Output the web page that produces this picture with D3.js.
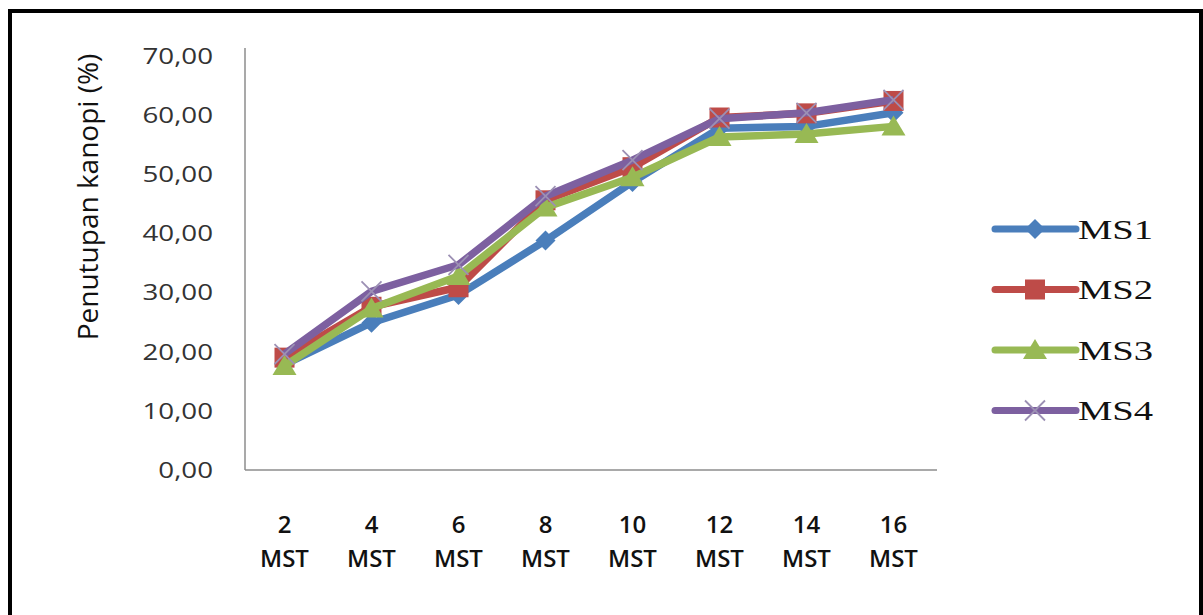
<!DOCTYPE html>
<html>
<head>
<meta charset="utf-8">
<script src="https://cdn.jsdelivr.net/npm/d3@7"></script>
<style>
  body { margin: 0; background: #fff; }
  svg { display: block; }
</style>
</head>
<body>
<div class="drawingArea"></div>
<script>
var categories = ["2", "4", "6", "8", "10", "12", "14", "16"];
var unitLabel = "MST";
var seriesNames = ["MS1", "MS2", "MS3", "MS4"];
var ms1 = [17.8, 24.9, 29.6, 38.8, 48.7, 57.8, 58.1, 60.4];
var ms2 = [19.0, 27.6, 30.9, 45.6, 51.2, 59.6, 60.3, 62.4];
var ms3 = [17.6, 27.3, 32.8, 44.4, 49.5, 56.3, 56.8, 58.1];
var ms4 = [19.6, 30.2, 34.7, 46.3, 52.4, 59.4, 60.4, 62.6];
var yTicks = [0, 10, 20, 30, 40, 50, 60, 70];
var yTitle = "Penutupan kanopi (%)";

var width = 1203;
var height = 615;

var colors = ["#4A7EBB", "#BE4B48", "#98B954", "#7D60A0"];
var markers = ["diamond", "square", "triangle", "x"];
var allSeries = [ms1, ms2, ms3, ms4];

var svg = d3.select(".drawingArea")
    .append("svg:svg")
    .attr("width", width)
    .attr("height", height);

// outer black frame (bottom edge is off the picture)
svg.append("path")
    .attr("d", "M10,640 L10,11 L1201,11 L1201,640")
    .attr("fill", "none")
    .attr("stroke", "#000")
    .attr("stroke-width", 4);

var x = d3.scaleBand()
    .domain(categories)
    .range([241, 937]);

var y = d3.scaleLinear()
    .domain([0, 70])
    .range([470, 56]);

// axes lines
svg.append("line")
    .attr("x1", 245).attr("x2", 245)
    .attr("y1", 48).attr("y2", y(0))
    .attr("stroke", "#8c8c8c").attr("stroke-width", 1.5);
svg.append("line")
    .attr("x1", 245).attr("x2", 937)
    .attr("y1", y(0)).attr("y2", y(0))
    .attr("stroke", "#8c8c8c").attr("stroke-width", 1.5);

// y tick labels
var yAxis = d3.axisLeft(y)
    .tickValues(yTicks)
    .tickSize(0)
    .tickFormat(function(d) { return d3.format(".2f")(d).replace(".", ","); });

var yg = svg.append("g")
    .attr("transform", "translate(213,0)")
    .call(yAxis);
yg.select(".domain").remove();
yg.selectAll("text")
    .attr("x", 0)
    .attr("dy", "0.35em")
    .attr("font-family", "Open Sans")
    .attr("font-size", 21)
    .attr("fill", "#333")
    .attr("transform", function(d) { return "translate(0," + y(d) + ") scale(1.32,1) translate(0," + (-y(d)) + ")"; });

// y title
svg.append("text")
    .attr("transform", "translate(98,197) rotate(-90)")
    .attr("text-anchor", "middle")
    .attr("font-family", "Open Sans")
    .attr("font-weight", 500)
    .attr("font-size", 28)
    .attr("fill", "#111")
    .text(yTitle);

// x labels (two lines)
var xl = svg.append("g").selectAll("g")
    .data(categories)
    .enter()
    .append("g")
    .attr("transform", function(d) { return "translate(" + (x(d) + x.bandwidth() / 2) + ",0)"; });
xl.append("text")
    .attr("y", 533)
    .attr("text-anchor", "middle")
    .attr("font-family", "Open Sans")
    .attr("font-weight", 600)
    .attr("font-size", 24)
    .attr("fill", "#111")
    .text(function(d) { return d; });
xl.append("text")
    .attr("y", 567)
    .attr("text-anchor", "middle")
    .attr("font-family", "Open Sans")
    .attr("font-weight", 600)
    .attr("font-size", 24)
    .attr("fill", "#111")
    .text(unitLabel);

function drawMarker(g, kind, color) {
    if (kind == "diamond") {
        g.append("path").attr("d", "M0,-10 L10,0 L0,10 L-10,0 Z").attr("fill", color);
    } else if (kind == "square") {
        g.append("rect").attr("x", -10).attr("y", -10).attr("width", 20).attr("height", 20).attr("fill", color);
    } else if (kind == "triangle") {
        g.append("path").attr("d", "M0,-11 L12,9 L-12,9 Z").attr("fill", color);
    } else {
        g.append("path").attr("d", "M-10,-10 L10,10 M-10,10 L10,-10")
            .attr("stroke", "#9c90b4").attr("stroke-width", 1.8).attr("fill", "none");
    }
}

var line = d3.line()
    .x(function(d, i) { return x(categories[i]) + x.bandwidth() / 2; })
    .y(function(d) { return y(d); });

allSeries.forEach(function(values, s) {
    var g = svg.append("g");
    g.append("path")
        .datum(values)
        .attr("d", line)
        .attr("fill", "none")
        .attr("stroke", colors[s])
        .attr("stroke-width", 7.5)
        .attr("stroke-linejoin", "round");
    values.forEach(function(v, i) {
        var m = g.append("g")
            .attr("transform", "translate(" + (x(categories[i]) + x.bandwidth() / 2) + "," + y(v) + ")");
        drawMarker(m, markers[s], colors[s]);
    });
});

// legend
var legend = svg.append("g").selectAll("g")
    .data(seriesNames)
    .enter()
    .append("g")
    .attr("transform", function(d, i) { return "translate(0," + (229 + i * 60.5) + ")"; });
legend.append("line")
    .attr("x1", 995).attr("x2", 1076)
    .attr("stroke", function(d, i) { return colors[i]; })
    .attr("stroke-width", 7)
    .attr("stroke-linecap", "round");
legend.each(function(d, i) {
    var m = d3.select(this).append("g").attr("transform", "translate(1035,0)");
    drawMarker(m, markers[i], colors[i]);
});
legend.append("text")
    .attr("transform", "translate(1078,0) scale(1.38,1)")
    .attr("dy", "0.34em")
    .attr("font-family", "Liberation Serif")
    .attr("font-size", 28)
    .attr("fill", "#111")
    .text(function(d) { return d; });
</script>
</body>
</html>
